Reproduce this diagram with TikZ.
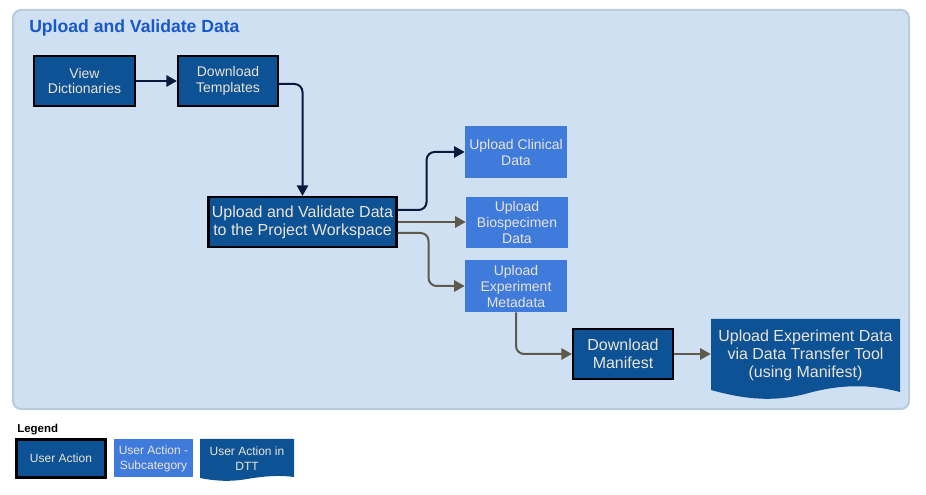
\documentclass[tikz,border=0pt]{standalone}
\usepackage{fontspec}
\setmainfont{Liberation Sans}
\usetikzlibrary{arrows.meta,calc}
\definecolor{panelfill}{HTML}{CEE0F2}
\definecolor{panelline}{HTML}{B9CCDA}
\definecolor{dkblue}{HTML}{0D5294}
\definecolor{ltblue}{HTML}{3E7BDA}
\definecolor{cream}{HTML}{EBE4D6}
\definecolor{navy}{HTML}{0B1A3C}
\definecolor{olive}{HTML}{5D5A4C}
\definecolor{titleblue}{HTML}{1857CC}
\begin{document}
\begin{tikzpicture}[x=0.75pt,y=-0.75pt,
 sz/.style 2 args={minimum width=#1*0.75pt,minimum height=#2*0.75pt},
 ua/.style={draw=black,line width=1.6pt,fill=dkblue,text=cream,align=center,inner sep=0pt},
 sub/.style={fill=ltblue,text=cream,align=center,inner sep=0pt},
 f14/.style={font=\fontsize{10.5}{12}\selectfont},
 f16/.style={font=\fontsize{12}{13.5}\selectfont},
 f12/.style={font=\fontsize{9}{11.25}\selectfont},
 conn/.style={line width=1.5pt,rounded corners=6pt,-{Triangle[length=8pt,width=8.5pt]}},
 dk/.style={conn,draw=navy,fill=none},
 gr/.style={conn,draw=olive,fill=none},
]
\useasboundingbox (0,0) rectangle (926,495);
\fill[white] (0,0) rectangle (926,495);
\draw[panelline, fill=panelfill, line width=1.5pt, rounded corners=6pt] (13,10) rectangle (909,409);
\node[anchor=base west, text=titleblue, font=\fontsize{13.2}{15}\selectfont\bfseries, inner sep=0pt] (title) at (29,33) {Upload and Validate Data};

\node[ua,f14,sz={101}{50}] (vd) at (84.5,81) {View\\Dictionaries};
\node[ua,f14,sz={100}{50}] (dt) at (228,81) {Download\\Templates};
\node[ua,f16,sz={188}{50}] (uvd) at (302.5,222) {Upload and Validate Data\\to the Project Workspace};
\node[sub,f14,sz={102}{52}] (clin) at (516,152) {Upload Clinical\\Data};
\node[sub,f14,sz={102}{51}] (bio) at (517,222.5) {Upload\\Biospecimen\\Data};
\node[sub,f14,sz={102}{52}] (exp) at (516,286) {Upload\\Experiment\\Metadata};
\node[ua,f16,sz={100}{50}] (man) at (623,354) {Download\\Manifest};
\fill[dkblue] (711,319) -- (900,319) -- (900,392) .. controls (870,384) and (840,384) .. (805,394) .. controls (770,403) and (740,398) .. (711,390) -- cycle;
\node[f16,text=cream,align=center,inner sep=0pt,sz={189}{73}] (dtt) at (805.5,355) {Upload Experiment Data\\via Data Transfer Tool\\(using Manifest)};

\draw[dk] (vd) -- (dt);
\draw[dk] ($(dt.east)+(0,3)$) -| (uvd.north);
\draw[dk] ($(uvd.east)+(0,-12)$) -- ++(29,0) |- (clin.west);
\draw[gr] (uvd.east) -- (uvd.east -| bio.west);
\draw[gr] ($(uvd.east)+(0,11)$) -- ++(31,0) |- (exp.west);
\draw[gr] (exp.south) |- (man.west);
\draw[gr] (man.east) -- (man.east -| dtt.west);

\node[anchor=base west, font=\fontsize{8.6}{10}\selectfont\bfseries, inner sep=0pt] (leg) at (17,433) {Legend};
\node[ua,f12,sz={89}{38}] (lua) at (61,458.5) {User Action};
\node[sub,f12,sz={79}{38}] (lsub) at (153.5,458.5) {User Action -\\Subcategory};
\fill[dkblue] (200,439) -- (294,439) -- (294,477) .. controls (280,475) and (265,476) .. (247,479) .. controls (230,482) and (215,481) .. (200,478) -- cycle;
\node[f12,text=cream,align=center,inner sep=0pt] (ldtt) at (247,459) {User Action in\\DTT};
\end{tikzpicture}
\end{document}
